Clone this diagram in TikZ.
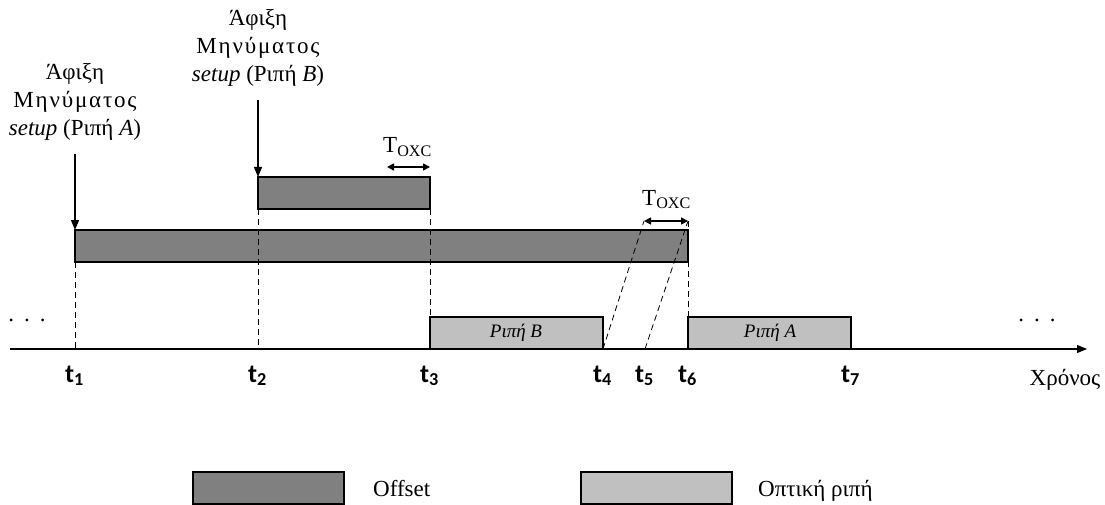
\documentclass[tikz,border=0pt]{standalone}
\usepackage{fontspec}
\setmainfont{Liberation Serif}
\newfontfamily\tfont{Carlito}
\usetikzlibrary{arrows.meta,positioning,calc}
\definecolor{cOffset}{RGB}{128,128,128}
\definecolor{cBurst}{RGB}{192,192,192}
\newcommand{\msgword}{{\addfontfeature{LetterSpace=8}Μηνύματος}}

\begin{document}
\begin{tikzpicture}[x=1pt, y=-1pt, font=\fontsize{23}{28}\selectfont,
  bar/.style={draw=black, line width=1.1pt},
  guide/.style={line width=0.8pt, dash pattern=on 6pt off 4pt},
  arr/.style={line width=1.2pt, -{Triangle[length=10pt,width=8pt]}},
  span/.style={line width=1.6pt, {Triangle[length=7pt,width=7pt]}-{Triangle[length=7pt,width=7pt]}}]
\useasboundingbox (0,0) rectangle (1105,505);
% time axis
\coordinate (ax0) at (10,349);
\coordinate (ax1) at (1087,349);
\draw[arr, line width=1.1pt] (ax0) -- (ax1);
\foreach \n/\x in {1/75,2/258,3/430,4/603,5/645,6/688,7/851} {
  \coordinate (t\n) at (\x,349);
  \node[anchor=base west, inner sep=0pt, font=\fontsize{26}{28}\tfont\bfseries]
    (lt\n) at (\x-10,382) {t\textsubscript{\n}};
}
\node[anchor=base, inner sep=0pt] (dotsL) at (27,321) {.\hspace{10pt}.\hspace{10pt}.};
\node[anchor=base, inner sep=0pt] (dotsR) at (1037,321) {.\hspace{10pt}.\hspace{10pt}.};
\node[anchor=base, inner sep=0pt] (time) at (1065,385) {Χρόνος};
% bars
\draw[bar, fill=cOffset] (75,230) rectangle (688,262);
\draw[bar, fill=cOffset] (258,177) rectangle (430,209);
\draw[bar, fill=cBurst] (430,317) rectangle (603,349);
\draw[bar, fill=cBurst] (688,317) rectangle (851,349);
\node[font=\fontsize{19}{22}\selectfont\itshape] (burstB) at (516,333) {Ριπή B};
\node[font=\fontsize{19}{22}\selectfont\itshape] (burstA) at (770,333) {Ριπή A};
% guides
\draw[guide] (75,262) -- (t1);
\draw[guide] (258,209) -- (t2);
\draw[guide] (430,209) -- (430,317);
\coordinate (oxcL) at (644,221);
\coordinate (oxcR) at (688,221);
\draw[guide] (t4) -- (oxcL);
\draw[guide] (t5) -- (oxcR);
\draw[guide] (oxcR) -- (688,317);
% setup messages
\node[align=center, anchor=south, inner sep=2pt] (msgA) at (75,143)
  {Άφιξη\\\msgword\\\textit{setup} (Ριπή \textit{A})};
\node[align=center, anchor=south, inner sep=2pt] (msgB) at (258,89)
  {Άφιξη\\\msgword\\\textit{setup} (Ριπή \textit{B})};
\draw[arr] ([yshift=-11pt]msgA.south) -- (75,230);
\draw[arr] ([yshift=-11pt]msgB.south) -- (258,177);
% switching times
\coordinate (oxc1L) at (387,167);
\coordinate (oxc1R) at (430,167);
\draw[span] (oxc1L) -- (oxc1R);
\draw[span] (oxcL) -- (oxcR);
\node[anchor=base west, inner sep=0pt] (toxc1) at (383,153) {T\textsubscript{OXC}};
\node[anchor=base west, inner sep=0pt] (toxc2) at (642,205) {T\textsubscript{OXC}};
% legend
\draw[bar, fill=cOffset] (193,472) rectangle (344,504);
\node[anchor=base west, inner sep=0pt] (legOff) at (373,496) {Offset};
\draw[bar, fill=cBurst] (581,472) rectangle (732,504);
\node[anchor=base west, inner sep=0pt] (legBurst) at (758,496) {Οπτική ριπή};
\end{tikzpicture}
\end{document}
